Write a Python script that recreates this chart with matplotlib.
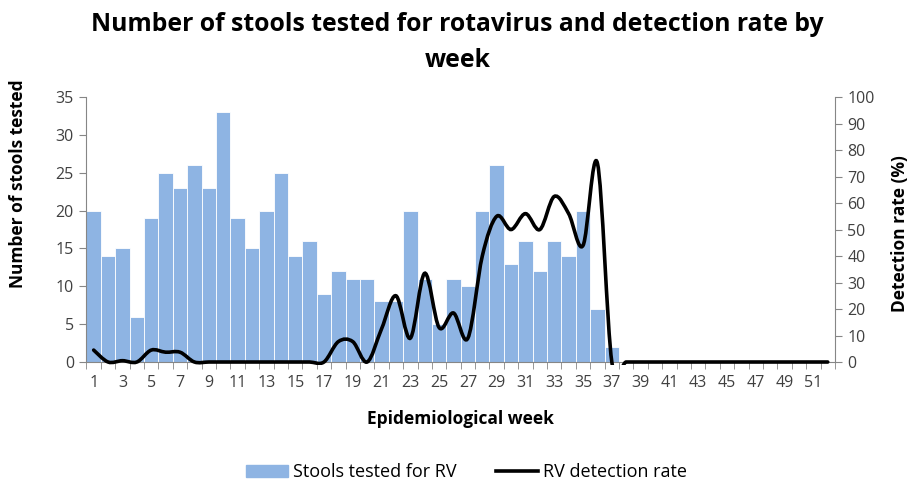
import numpy as np
import matplotlib
matplotlib.use("Agg")
import matplotlib.pyplot as plt
from matplotlib.path import Path
from matplotlib.patches import PathPatch, Rectangle
from matplotlib.lines import Line2D

plt.rcParams["font.family"] = ["Open Sans", "DejaVu Sans"]

# Data
weeks = list(range(1, 53))
stools_tested = [20, 14, 15, 6, 19, 25, 23, 26, 23, 33,
                 19, 15, 20, 25, 14, 16, 9, 12, 11, 11,
                 8, 8, 20, 11, 5, 11, 10, 20, 26, 13,
                 16, 12, 16, 14, 20, 7, 2] + [0] * 15
detection_rate = [4.5, 0, 0.5, 0, 4.5, 3.7, 3.7, 0, 0, 0,
                  0, 0, 0, 0, 0, 0, 0, 7.7, 7.7, 0,
                  12.5, 25, 9, 33.5, 13, 18.5, 9, 40, 55, 50,
                  56, 50, 62.5, 56, 44, 75, 0] + [0] * 15
week_labels = [str(w) if w % 2 == 1 else "" for w in weeks]

bar_color = "#8EB4E3"
axis_color = "#868686"
text_color = "#404040"


def smooth_path(x, y):
    # Excel-style smoothed line: cubic Bezier through every point
    x = np.asarray(x, float)
    y = np.asarray(y, float)
    n = len(x)
    verts = [(x[0], y[0])]
    codes = [Path.MOVETO]
    for i in range(n - 1):
        xp, yp = (x[i - 1], y[i - 1]) if i > 0 else (x[i], y[i])
        xn, yn = (x[i + 2], y[i + 2]) if i + 2 < n else (x[i + 1], y[i + 1])
        c1 = (x[i] + (x[i + 1] - xp) / 6, y[i] + (y[i + 1] - yp) / 6)
        c2 = (x[i + 1] - (xn - x[i]) / 6, y[i + 1] - (yn - y[i]) / 6)
        verts += [c1, c2, (x[i + 1], y[i + 1])]
        codes += [Path.CURVE4] * 3
    return Path(verts, codes)


fig = plt.figure(figsize=(9.15, 4.83), dpi=100)
ax = fig.add_axes([0.0945, 0.2505, 0.818, 0.5485])

nz = [i for i, v in enumerate(stools_tested) if v > 0]
ax.bar([weeks[i] for i in nz], [stools_tested[i] for i in nz], width=1.0,
       color=bar_color, edgecolor="white", linewidth=0.6, zorder=2)

ax.set_xlim(0.5, 52.5)
ax.set_ylim(0, 35)
ax.set_yticks(range(0, 36, 5))
ax.set_xticks(weeks)
ax.set_xticklabels(week_labels)
ax.set_xticks(np.arange(0.5, 53, 1), minor=True)
ax.tick_params(axis="x", which="major", length=0, pad=9, labelsize=11.5, colors=text_color)
ax.tick_params(axis="x", which="minor", length=5, color=axis_color, direction="out")
ax.tick_params(axis="y", length=5, color=axis_color, labelsize=11.5, labelcolor=text_color, pad=4)
for s in ["top", "right"]:
    ax.spines[s].set_visible(False)
for s in ["left", "bottom"]:
    ax.spines[s].set_color(axis_color)

ax2 = ax.twinx()
ax2.set_ylim(0, 100)
ax2.set_yticks(range(0, 101, 10))
ax2.tick_params(axis="y", length=5, color=axis_color, labelsize=11.5, labelcolor=text_color, pad=4)
for s in ["top", "left", "bottom"]:
    ax2.spines[s].set_visible(False)
ax2.spines["right"].set_color(axis_color)

line = PathPatch(smooth_path(weeks, detection_rate), facecolor="none",
                 edgecolor="black", linewidth=2.6, capstyle="round", zorder=3)
ax2.add_patch(line)
clip = Rectangle((0, -0.012), 1, 1.03, transform=ax2.transAxes, facecolor="none", edgecolor="none")
ax2.add_patch(clip)
line.set_clip_path(clip)

ax.set_ylabel("Number of stools tested", fontsize=12.5, fontweight="bold")
ax.yaxis.set_label_coords(-0.0794, 0.672)
ax2.set_ylabel("Detection rate (%)", fontsize=12.5, fontweight="bold")
ax2.yaxis.set_label_coords(1.075, 0.486)
ax.set_xlabel("Epidemiological week", fontsize=12.5, fontweight="bold", labelpad=14)

fig.suptitle("Number of stools tested for rotavirus and detection rate by\nweek",
             fontsize=17.8, fontweight="bold", y=0.975, linespacing=1.55)

handles = [Rectangle((0, 0), 1, 1, color=bar_color),
           Line2D([0], [0], color="black", linewidth=2.6)]
fig.legend(handles, ["Stools tested for RV", "RV detection rate"],
           loc="lower center", bbox_to_anchor=(0.51, -0.03), ncol=2, frameon=False,
           fontsize=13, handlelength=2.3, handletextpad=0.3, columnspacing=2.2)

fig.savefig("out.png", dpi=100)
